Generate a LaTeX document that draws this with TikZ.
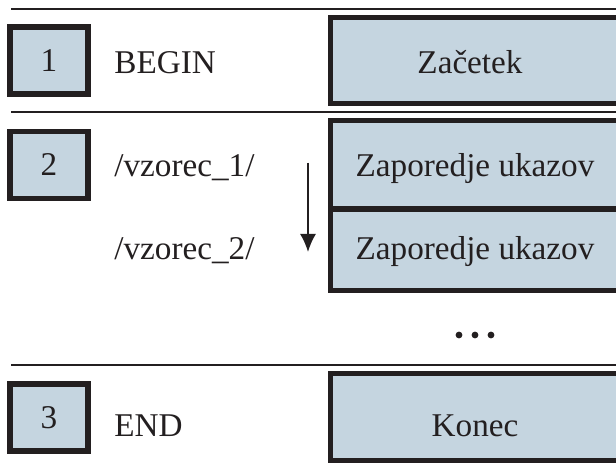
\documentclass[tikz,border=0pt]{standalone}
\usepackage{fontspec}
\setmainfont{Liberation Serif}
\usetikzlibrary{arrows.meta,positioning}
\definecolor{boxfill}{RGB}{197,213,224}
\definecolor{edge}{RGB}{35,31,32}
\tikzset{
  numbox/.style={draw=edge, line width=2.6pt, fill=boxfill, outer sep=0pt,
    inner sep=0pt, minimum width=39pt, minimum height=33.5pt},
  cmdbox/.style={draw=edge, line width=2.6pt, fill=boxfill, outer sep=0pt,
    inner sep=0pt, anchor=north west, minimum width=200pt},
  sepline/.style={draw=edge, line width=1.3pt},
  kwlbl/.style={anchor=base west, inner sep=0pt},
  cmdlbl/.style={anchor=base, inner sep=0pt},
}

\begin{document}
\begin{tikzpicture}[x=0.5pt, y=-0.5pt, font=\fontsize{16.6}{20}\selectfont,
  text=edge]
\useasboundingbox (0,0) rectangle (616,464);
\clip (0,0) rectangle (616,464);
% separating rules
\coordinate (r1a) at (11,9);   \coordinate (r1b) at (640,9);
\coordinate (r2a) at (11,112); \coordinate (r2b) at (640,112);
\coordinate (r3a) at (11,365); \coordinate (r3b) at (640,365);
\draw[sepline] (r1a) -- (r1b);
\draw[sepline] (r2a) -- (r2b);
\draw[sepline] (r3a) -- (r3b);
% right hand boxes
\node[cmdbox, minimum height=42.9pt] (c1) at (330.6,17.6) {};
\node[cmdbox, minimum height=44.2pt] (c2) at (330.6,120.6) {};
\node[cmdbox, minimum height=40.8pt] (c3) at (330.6,209) {};
\node[cmdbox, minimum height=43.4pt] (c4) at (330.6,373.6) {};
\node[cmdlbl] (t1) at (470,74) {Začetek};
\node[cmdlbl] (t2) at (475,177) {Zaporedje ukazov};
\node[cmdlbl] (t3) at (475,260) {Zaporedje ukazov};
\node[cmdlbl] (t4) at (475,437) {Konec};
% numbered boxes
\node[numbox] (n1) at (49,60.5) {1};
\node[numbox] (n2) at (49,165) {2};
\node[numbox] (n3) at (49,417.5) {3};
\node[kwlbl] (k1) at (114,74) {BEGIN};
\node[kwlbl] (p1) at (114,177) {/vzorec\_1/};
\node[kwlbl] (p2) at (114,260) {/vzorec\_2/};
\node[kwlbl] (k3) at (114,437) {END};
% order of patterns
\coordinate (a1) at (308,163);
\coordinate (a2) at (308,252);
\draw[draw=edge, fill=edge, line width=0.9pt,
  -{Latex[length=9pt,width=8pt]}] (a1) -- (a2);
% more patterns
\foreach \x in {459,475,491}
  \fill[edge] (\x,335) circle[radius=1.7pt];
\end{tikzpicture}
\end{document}
